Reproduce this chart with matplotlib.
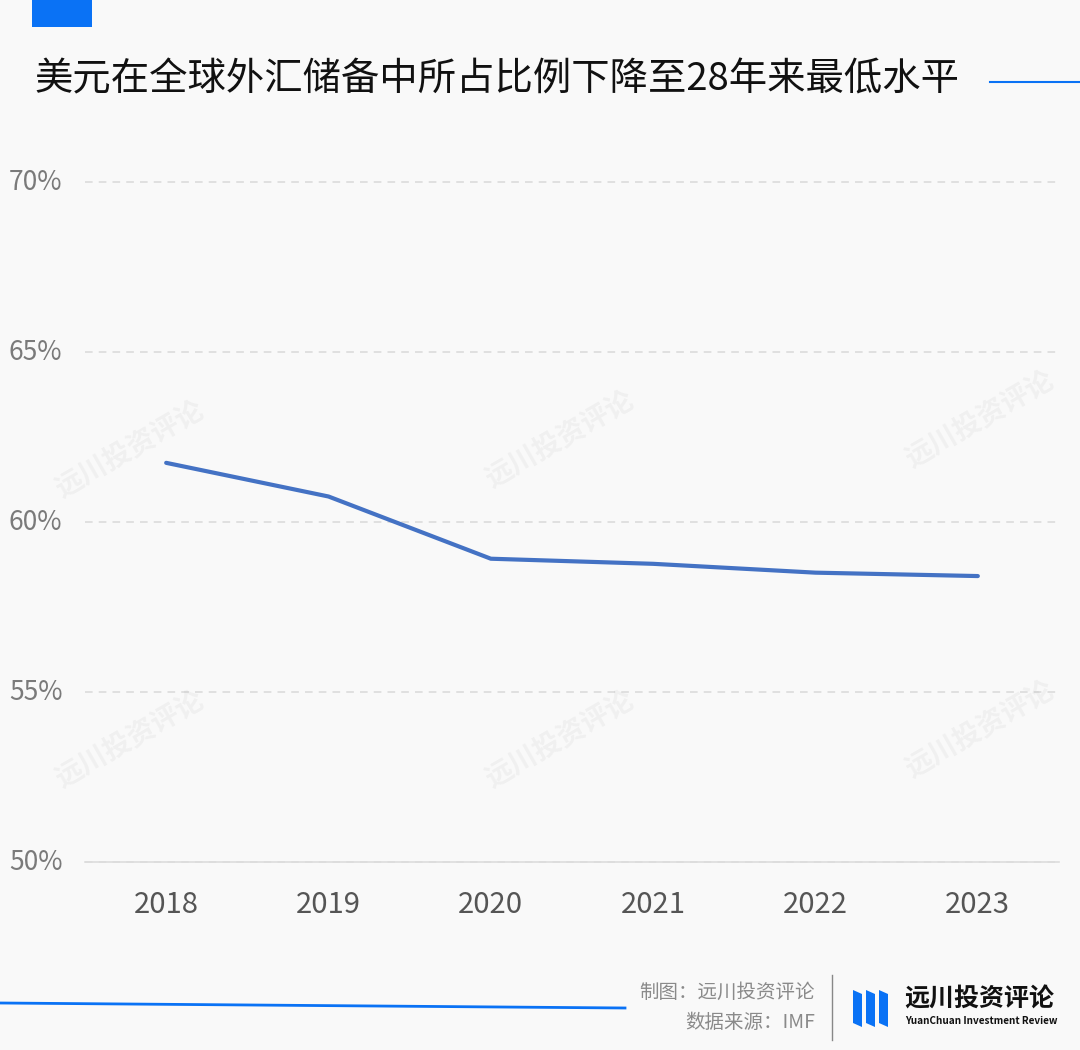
import matplotlib
matplotlib.use("Agg")
import matplotlib.pyplot as plt
from matplotlib.patches import Rectangle, Polygon
from matplotlib.transforms import blended_transform_factory

plt.rcParams['font.family'] = ['Noto Sans CJK SC', 'DejaVu Sans']

# data
years = ["2018", "2019", "2020", "2021", "2022", "2023"]
usd_share = [61.74, 60.75, 58.92, 58.77, 58.51, 58.41]
yticks = [50, 55, 60, 65, 70]
ytick_labels = ["50%", "55%", "60%", "65%", "70%"]

title = "美元在全球外汇储备中所占比例下降至28年来最低水平"
credit = "制图：远川投资评论"
source = "数据来源：IMF"

BG = "#f9f9f9"
BLUE = "#0a72f5"
LINE = "#4472c4"

fig = plt.figure(figsize=(10.8, 10.5), dpi=100, facecolor=BG)
W, H = 1080, 1050

def fx(px):
    return px / W

def fy(py):
    return 1 - py / H

# header decorations
fig.patches.append(Rectangle((fx(32), fy(27)), fx(60), 27 / H, transform=fig.transFigure,
                             color=BLUE, lw=0))
fig.text(fx(34), fy(80), title, fontsize=27.6, color="#111111", va="center", ha="left")
fig.add_artist(plt.Line2D([fx(990), fx(1080)], [fy(82), fy(82)], transform=fig.transFigure,
                          color=BLUE, lw=1.5))

ax = fig.add_axes([fx(85), fy(862), fx(1059 - 85), (862 - 182) / H])
ax.set_facecolor(BG)
x = list(range(len(years)))
ax.plot(x, usd_share, color=LINE, lw=3, solid_capstyle="round", zorder=3)
ax.set_xlim(-0.5, len(years) - 0.5)
ax.set_ylim(50, 70)
ax.set_xticks(x)
ax.set_xticklabels(years, fontsize=21, color="#555555")
ax.tick_params(axis="x", length=0, pad=20)
ax.set_yticks(yticks)
ax.set_yticklabels([])
ax.tick_params(axis="y", length=0)
for s in ["top", "right", "left"]:
    ax.spines[s].set_visible(False)
ax.spines["bottom"].set_color("#dddddd")
ax.spines["bottom"].set_linewidth(1.2)
ax.grid(axis="y", color="#d9d9d9", ls=(0, (5, 4)), lw=1.1, clip_on=False)
ax.set_axisbelow(True)

trans = blended_transform_factory(fig.transFigure, ax.transData)
for v, lab in zip(yticks, ytick_labels):
    ax.text(fx(9), v, lab, transform=trans, fontsize=19, color="#7a7a7a",
            ha="left", va="center")

# faint watermarks
for (wx, wy) in [(130, 450), (560, 440), (980, 420), (130, 740), (560, 740), (980, 730)]:
    fig.text(fx(wx), fy(wy), "远川投资评论", fontsize=20, color="#000000", alpha=0.04,
             rotation=30, ha="center", va="center", fontweight="bold")

# footer
fig.add_artist(plt.Line2D([0, fx(625)], [fy(1003), fy(1008)], transform=fig.transFigure,
                          color=BLUE, lw=2))
fig.text(fx(815), fy(992), credit, fontsize=14, color="#8a8a8a", ha="right", va="center")
fig.text(fx(815), fy(1022), source, fontsize=14, color="#8a8a8a", ha="right", va="center")
fig.add_artist(plt.Line2D([fx(832), fx(832)], [fy(975), fy(1040)], transform=fig.transFigure,
                          color="#888888", lw=1))
for i, (x0, x1) in enumerate([(853, 862), (866, 875), (879, 888)]):
    fig.patches.append(Polygon([(fx(x0), fy(990)), (fx(x1), fy(994)), (fx(x1), fy(1027)),
                                (fx(x0), fy(1023))], closed=True, transform=fig.transFigure,
                               color=BLUE, lw=0))
fig.text(fx(904), fy(999), "远川投资评论", fontsize=18, color="#111111", ha="left",
         va="center", fontweight="bold")
fig.text(fx(905), fy(1021), "YuanChuan Investment Review", fontsize=7.2, color="#111111",
         ha="left", va="center", fontweight="bold")

fig.savefig("out.png", dpi=100, facecolor=BG)
